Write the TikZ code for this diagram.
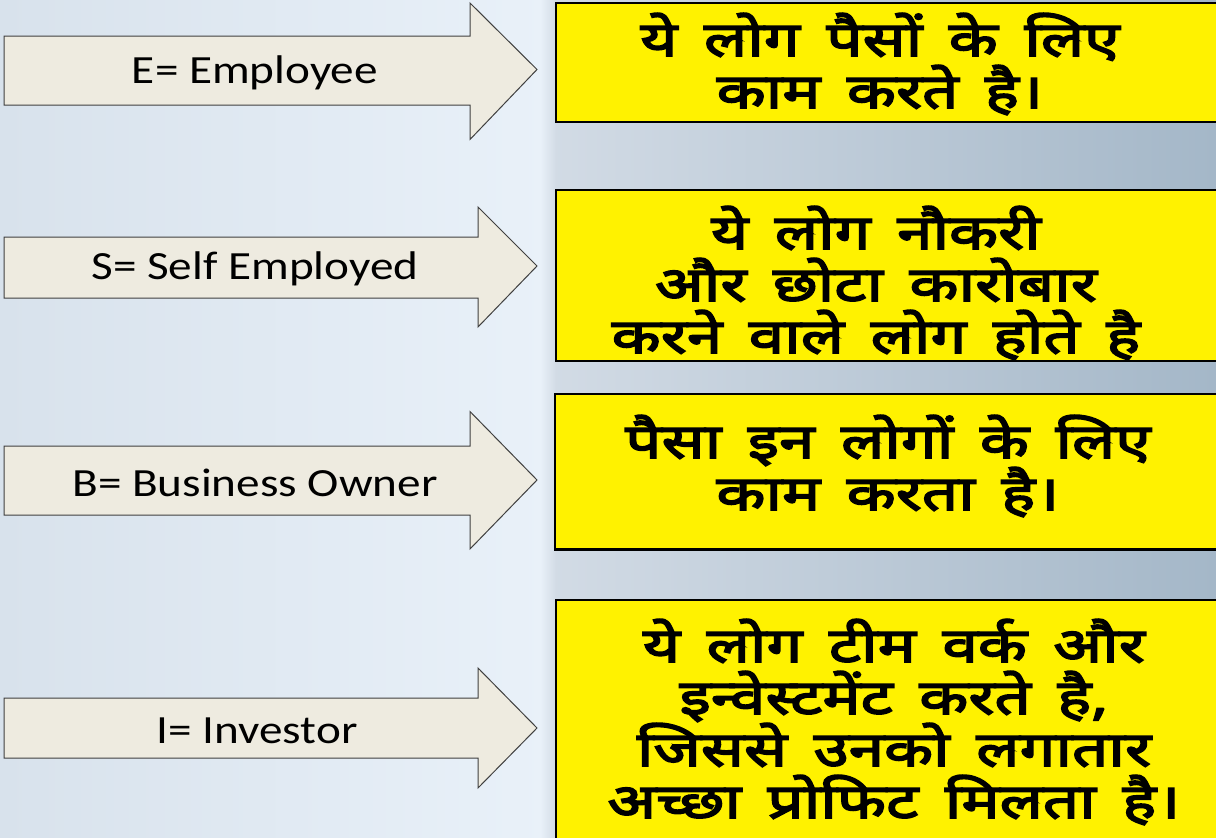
\documentclass[tikz,border=0pt]{standalone}
\usepackage{fontspec}
\setmainfont{Carlito}
\newfontfamily\latinlabel[FakeStretch=1.18]{Carlito}
\newfontfamily\hindi[Script=Devanagari,FakeBold=3.5,FakeStretch=1.33,WordSpace=1.6]{Noto Sans}
\definecolor{bgL}{HTML}{D8E2EC}
\definecolor{bgM}{HTML}{E9F1F9}
\definecolor{bgR1}{HTML}{D2DBE5}
\definecolor{bgR2}{HTML}{A4B7C8}
\definecolor{arrowfill}{HTML}{EEEBE0}
\definecolor{arrowline}{HTML}{404040}
\definecolor{boxyellow}{HTML}{FFF200}
\tikzset{
  slidearrow/.style={fill=arrowfill, draw=arrowline, line width=1pt, line join=miter},
  arrowlabel/.style={font=\latinlabel\fontsize{40}{44}\selectfont, text=black, inner sep=0pt},
  yellowbox/.style={fill=boxyellow, draw=black, line width=1.5pt},
  boxtext/.style={font=\hindi\fontsize{48}{52}\selectfont, align=center, text=black, inner sep=0pt}
}
\begin{document}
\begin{tikzpicture}[x=1pt,y=-1pt]
\useasboundingbox (0,0) rectangle (1216,838);
% background
\shade[left color=bgL, right color=bgM] (0,0) rectangle (550,838);
\shade[left color=bgR1, right color=bgR2] (550,0) rectangle (1216,838);
\shade[left color=bgM, right color=bgR1] (540,0) rectangle (556,838);

% arrows
\draw[slidearrow] (4,36) -- (470,36) -- (470,3) -- (537,69.5) -- (470,139.5) -- (470,105) -- (4,105) -- cycle;
\draw[slidearrow] (4,237) -- (478,237) -- (478,207) -- (537,266) -- (478,327) -- (478,298) -- (4,298) -- cycle;
\draw[slidearrow] (4,446) -- (470,446) -- (470,411.5) -- (537,480) -- (470,549) -- (470,515) -- (4,515) -- cycle;
\draw[slidearrow] (4,698) -- (478,698) -- (478,668) -- (537,728) -- (478,788) -- (478,758) -- (4,758) -- cycle;

\node[arrowlabel] (e) at (255,73) {E= Employee};
\node[arrowlabel] (s) at (255,269) {S= Self Employed};
\node[arrowlabel] (b) at (255,483) {B= Business Owner};
\node[arrowlabel] (i) at (257,731) {I= Investor};

% yellow boxes
\draw[yellowbox] (556,3) rectangle (1222,122);
\draw[yellowbox] (556,190) rectangle (1222,361);
\draw[yellowbox, line width=2.5pt] (555,394) rectangle (1222,549.5);
\draw[yellowbox] (556,600) rectangle (1222,842);

\node[boxtext] (t1) at (880,64) {ये लोग पैसों के लिए\\काम करते है।};
\node[boxtext] (t2) at (876,283) {ये लोग नौकरी\\और छोटा कारोबार\\करने वाले लोग होते है};
\node[boxtext] (t3) at (888,466) {पैसा इन लोगों के लिए\\काम करता है।};
\node[boxtext] (t4) at (894,722) {ये लोग टीम वर्क और\\इन्वेस्टमेंट करते है,\\जिससे उनको लगातार\\अच्छा प्रोफिट मिलता है।};
\end{tikzpicture}
\end{document}
